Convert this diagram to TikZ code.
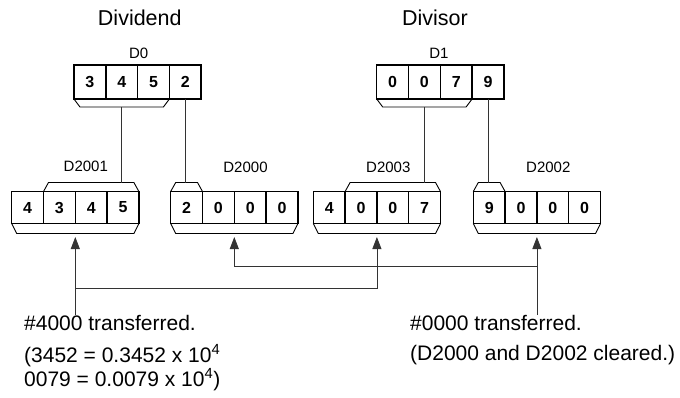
\documentclass[tikz,border=0pt]{standalone}
\usepackage{fontspec}
\setmainfont{Liberation Sans}
\usetikzlibrary{arrows.meta}

\tikzset{
  cell/.style={draw,line width=1.5pt,minimum width=31.8pt,minimum height=32pt,inner sep=0pt,outer sep=0pt,font=\fontsize{16}{16}\selectfont\bfseries},
  brace/.style={line width=0.9pt},
  link/.style={line width=0.8pt,draw=black!80},
  arr/.style={link,-{Triangle[length=12pt,width=9pt]}},
  regname/.style={font=\fontsize{15}{15}\selectfont},
  title/.style={font=\fontsize{21.5}{22}\selectfont},
  note/.style={font=\fontsize{21}{23}\selectfont,inner sep=0pt,anchor=base west},
}

\begin{document}
\begin{tikzpicture}[x=1pt,y=-1pt]
\useasboundingbox (0,0) rectangle (680,397);
% titles and register names
\node[title] (dividend) at (139.8,18.3) {Dividend};
\node[title] (divisor) at (435,18.3) {Divisor};
\node[regname] (l0) at (138.7,53.3) {D0};
\node[regname] (l1) at (439,53.3) {D1};
\node[regname] (l2001) at (85.8,166.5) {D2001};
\node[regname] (l2000) at (245.5,167.5) {D2000};
\node[regname] (l2003) at (388.3,167) {D2003};
\node[regname] (l2002) at (548.3,167) {D2002};
% source registers
\foreach \d [count=\i] in {3,4,5,2}
  \node[cell,minimum height=34pt] (d0-\i) at ({74+15.9+31.8*(\i-1)},82) {\d};
\foreach \d [count=\i] in {0,0,7,9}
  \node[cell,minimum height=34pt] (d1-\i) at ({376.7+15.9+31.8*(\i-1)},82) {\d};
% result registers
\foreach \d [count=\i] in {4,3,4,5}
  \node[cell] (d2001-\i) at ({11.7+15.9+31.8*(\i-1)},207.5) {\d};
\foreach \d [count=\i] in {2,0,0,0}
  \node[cell] (d2000-\i) at ({170.7+15.9+31.8*(\i-1)},207.5) {\d};
\foreach \d [count=\i] in {4,0,0,7}
  \node[cell] (d2003-\i) at ({313.3+15.9+31.8*(\i-1)},207.5) {\d};
\foreach \d [count=\i] in {9,0,0,0}
  \node[cell] (d2002-\i) at ({473.3+15.9+31.8*(\i-1)},207.5) {\d};
% brackets under D0 and D1
\draw[brace] (d0-1.south west) -- ++(6,8) -- ([shift={(-6,8)}]d0-3.south east) -- (d0-3.south east);
\draw[brace] (d1-1.south west) -- ++(6,8) -- ([shift={(-6,8)}]d1-3.south east) -- (d1-3.south east);
\coordinate (b0) at ([shift={(0,8)}]d0-2.south);
\coordinate (b1) at ([shift={(0,8)}]d1-2.south);
% brackets over the result registers
\draw[brace] (d2001-2.north west) -- ++(5,-9) -- ([shift={(-5,-9)}]d2001-4.north east) -- (d2001-4.north east);
\draw[brace] (d2000-1.north west) -- ++(5,-9) -- ([shift={(-5,-9)}]d2000-1.north east) -- (d2000-1.north east);
\draw[brace] (d2003-2.north west) -- ++(5,-9) -- ([shift={(-5,-9)}]d2003-4.north east) -- (d2003-4.north east);
\draw[brace] (d2002-1.north west) -- ++(5,-9) -- ([shift={(-5,-9)}]d2002-1.north east) -- (d2002-1.north east);
\coordinate (t2001) at ([shift={(0,-9)}]d2001-3.north);
\coordinate (t2000) at ([shift={(0,-9)}]d2000-1.north);
\coordinate (t2003) at ([shift={(0,-9)}]d2003-3.north);
\coordinate (t2002) at ([shift={(0,-9)}]d2002-1.north);
% brackets under the result registers
\foreach \r in {2001,2000,2003,2002} {
  \draw[brace] (d\r-1.south west) -- ++(5,10) -- ([shift={(-5,10)}]d\r-4.south east) -- (d\r-4.south east);
  \coordinate (a\r) at ([shift={(0,13.5)}]d\r-2.south east);
}
% transfers
\draw[link] (b0) -- (b0 |- t2001);
\draw[link] (d0-4.south) -- (d0-4.south |- t2000);
\draw[link] (b1) -- (b1 |- t2003);
\draw[link] (d1-4.south) -- (d1-4.south |- t2002);
% notes
\node[note] (t4000) at (24,330) {\#4000 transferred.};
\node[note] (teq1) at (24,362) {(3452 = 0.3452 x 10\textsuperscript{4}};
\node[note] (teq2) at (24,386) {0079 = 0.0079 x 10\textsuperscript{4})};
\node[note] (t0000) at (410,330.5) {\#0000 transferred.};
\node[note] (tclr) at (410,360.5) {(D2000 and D2002 cleared.)};
\coordinate (j4000) at (a2001 |- 0,288.3);
\coordinate (j0000) at (a2002 |- 0,266);
\draw[link] (a2001 |- t4000.north) -- (j4000);
\draw[arr] (j4000) -- (a2001);
\draw[arr] (j4000) -- (j4000 -| a2003) -- (a2003);
\draw[arr] (a2002 |- t0000.north) -- (a2002);
\draw[arr] (j0000) -- (j0000 -| a2000) -- (a2000);
\end{tikzpicture}
\end{document}
